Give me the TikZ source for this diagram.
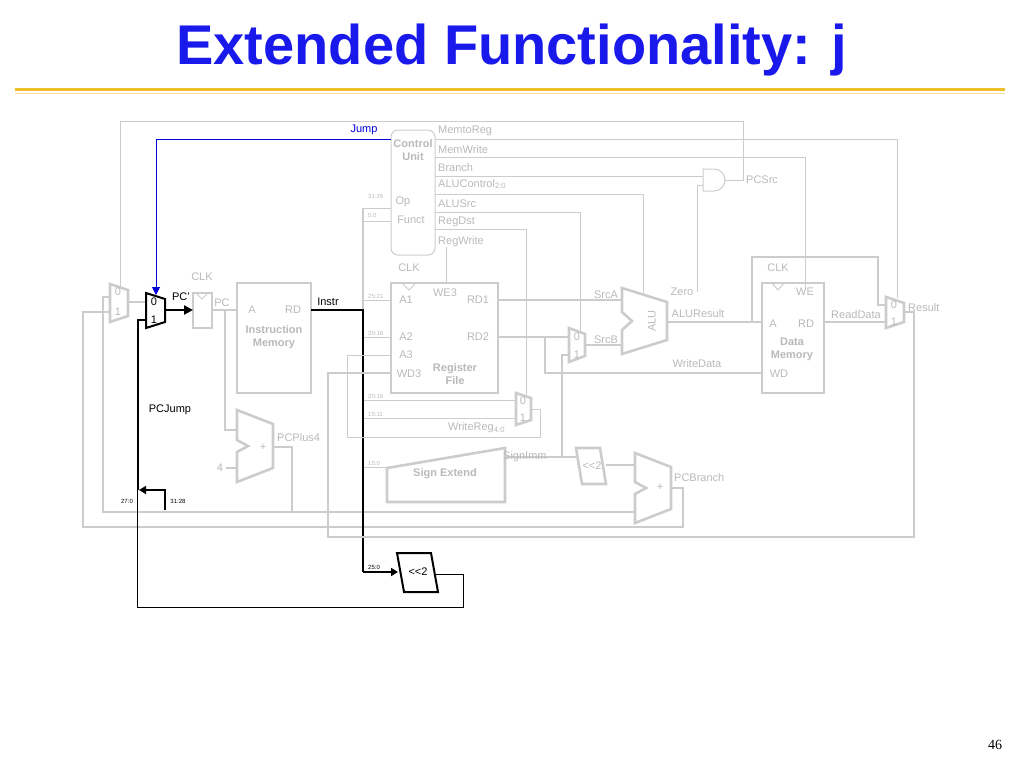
\documentclass[tikz,border=0pt]{standalone}
\usepackage{fontspec}
\setmainfont{Liberation Sans}
\usetikzlibrary{arrows.meta}
\definecolor{lg}{RGB}{204,204,204}
\definecolor{tg}{RGB}{185,185,185}
\definecolor{gold}{RGB}{240,190,40}
\definecolor{ttl}{RGB}{25,25,235}
\begin{document}
\begin{tikzpicture}[x=1pt,y=-1pt,
 w/.style={lg,line width=2.6pt},
 wt/.style={lg,line width=1pt},
 blk/.style={lg,line width=2.6pt},
 lb/.style={tg,font=\fontsize{11}{12}\selectfont,inner sep=0pt},
 bl/.style={tg,font=\fontsize{11}{13}\selectfont\bfseries,inner sep=0pt,align=center},
 sm/.style={tg,font=\fontsize{6}{7}\selectfont,inner sep=0pt},
 kb/.style={black,line width=2.6pt},
 kt/.style={black,line width=1pt}]
\useasboundingbox (0,0) rectangle (1024,768);
\node[ttl,font=\fontsize{56}{60}\selectfont\bfseries] (title) at (512,50) {Extended Functionality: j};
\draw[gold,line width=3pt] (15,89) -- (1005,89);
\draw[gold!50,line width=1pt] (15,93) -- (1005,93);
\node[font=\fontsize{14}{16}\selectfont\rmfamily] (pg) at (995,745) {\fontspec{Liberation Serif}46};

% control unit
\draw[wt,rounded corners=7pt] (391,130) rectangle (435,255);
\node[bl] (cu) at (413,150) {Control\\Unit};
\node[lb] at (403,202) {Op};
\node[lb] at (411,220) {Funct};
\foreach \t/\y in {MemtoReg/131,MemWrite/150,Branch/168,ALUSrc/204,RegDst/222,RegWrite/242}
  \node[lb,anchor=west] at (438,\y) {\t};
\node[lb,anchor=west] at (438,184) {ALUControl\textsubscript{2:0}};
\draw[wt] (435,139) -- (897,139) -- (897,298);
\draw[wt] (435,157) -- (805,157) -- (805,288);
\draw[wt] (435,176) -- (703,176);
\draw[wt] (435,194) -- (643,194) -- (643,296);
\draw[wt] (435,212) -- (580,212) -- (580,332);
\draw[wt] (435,229) -- (526,229) -- (526,396);
\draw[wt] (446,247) -- (446,283);
% AND
\draw[wt] (703,169) -- (714,169) arc(-90:90:11) -- (703,191) -- cycle;
\draw[wt] (725,180) -- (743,180) -- (743,121) -- (120,121) -- (120,288);
\node[lb,anchor=west] at (746,180) {PCSrc};
\draw[wt] (697,292) -- (697,185) -- (703,185);
\node[lb] at (682,292) {Zero};

% jump
\draw[blue!85!black,line width=1pt,-{Triangle[width=8pt,length=8pt]}] (391,139) -- (156,139) -- (156,295);
\node[blue!85!black,font=\fontsize{11}{12}\selectfont,inner sep=0pt] at (364,130) {Jump};

% register file
\draw[blk] (391,283) rectangle (498,393);
\draw[wt] (402,283) -- (409,290) -- (416,283);
\node[lb] at (409,268) {CLK};
\node[lb] at (445,293) {WE3};
\node[lb] at (406,300) {A1};
\node[lb] at (478,300) {RD1};
\node[lb] at (406,337) {A2};
\node[lb] at (478,337) {RD2};
\node[lb] at (406,355) {A3};
\node[lb] at (409,374) {WD3};
\node[bl] (rf) at (455,374) {Register\\File};
% instr memory
\draw[blk] (237,283) rectangle (311,393);
\node[lb] at (252,310) {A};
\node[lb] at (293,310) {RD};
\node[bl] (im) at (274,337) {Instruction\\Memory};
% PC reg
\draw[blk] (193,293) rectangle (212,328);
\draw[wt] (196,293) -- (202,299) -- (208,293);
\node[lb] at (202,277) {CLK};
\node[lb] at (222,303) {PC};
% far left mux
\draw[blk] (110,284) -- (128,290) -- (128,316) -- (110,322) -- cycle;
\node[lb] at (118,292) {0}; \node[lb] at (118,312) {1};
\draw[w] (128,302) -- (146,302);
\draw[w] (110,297) -- (103,297) -- (103,512) -- (635,512);
\draw[w] (110,312) -- (83,312) -- (83,527) -- (683,527) -- (683,488) -- (671,488);
% PC mux black
\draw[black,line width=2pt] (146,293) -- (165,299) -- (165,322) -- (146,328) -- cycle;
\node[font=\fontsize{11}{12}\selectfont,inner sep=0pt] at (154,302) {0};
\node[font=\fontsize{11}{12}\selectfont,inner sep=0pt] at (154,320) {1};
\draw[black,line width=2.6pt,-{Triangle[width=9pt,length=9pt]}] (165,310) -- (193,310);
\node[font=\fontsize{11}{12}\selectfont,inner sep=0pt] at (181,297) {PC'};
% PC to IM, adder
\draw[w] (212,310) -- (237,310);
\draw[w] (225,310) -- (225,430) -- (237,430);
% PCPlus4 adder
\draw[blk] (237,410) -- (273,424) -- (273,468) -- (237,482) -- (237,452) -- (248,446) -- (237,440) -- cycle;
\node[lb] at (263,447) {+};
\node[lb] at (220,468) {4};
\draw[w] (226,468) -- (237,468);
\draw[w] (273,447) -- (292,447) -- (292,512);
\node[lb,anchor=west] at (277,438) {PCPlus4};
% instr bus
\draw[w] (363,208) -- (363,467);
\draw[kb] (311,310) -- (363,310) -- (363,572);
\node[font=\fontsize{11}{12}\selectfont,inner sep=0pt] at (328,302) {Instr};
\draw[wt] (363,208) -- (391,208); \draw[wt] (363,221) -- (391,221);
\draw[wt] (364,300) -- (391,300); \draw[wt] (364,337) -- (391,337);
\draw[wt] (364,400) -- (516,400); \draw[wt] (364,418) -- (516,418);
\draw[wt] (364,467) -- (387,467);
\foreach \t/\y in {31:26/196,5:0/215,25:21/296,20:16/333,20:16/396,15:11/414,15:0/463}
  \node[sm,anchor=west] at (368,\y) {\t};
% regdst mux
\draw[blk] (516,393) -- (531,398) -- (531,420) -- (516,425) -- cycle;
\node[lb] at (523,401) {0}; \node[lb] at (523,418) {1};
\draw[wt] (531,409) -- (540,409) -- (540,437) -- (347,437) -- (347,355) -- (391,355);
\node[lb,anchor=west] at (448,428) {WriteReg\textsubscript{4:0}};
% sign extend
\draw[blk] (387,468) -- (505,448) -- (505,502) -- (387,502) -- cycle;
\node[bl] at (445,474) {Sign Extend};
\draw[w] (505,457) -- (576,457);
\node[lb,anchor=west] at (503,457) {SignImm};
\draw[blk] (576,448) -- (600,448) -- (606,484) -- (582,484) -- cycle;
\node[lb] at (592,466) {{<}{<}2};
\draw[w] (606,465) -- (635,465);
% PCBranch adder
\draw[blk] (635,453) -- (671,467) -- (671,509) -- (635,523) -- (635,494) -- (646,488) -- (635,482) -- cycle;
\node[lb] at (660,487) {+};
\node[lb,anchor=west] at (674,478) {PCBranch};
% ALU
\draw[blk] (622,288) -- (667,302) -- (667,340) -- (622,354) -- (622,330) -- (632,321) -- (622,312) -- cycle;
\node[lb,rotate=90] at (652,321) {ALU};
\draw[w] (498,300) -- (622,300);
\node[lb] at (606,295) {SrcA};
\draw[w] (498,337) -- (569,337);
\draw[w] (545,337) -- (545,373) -- (762,373);
\node[lb] at (697,364) {WriteData};
\draw[blk] (569,328) -- (585,334) -- (585,356) -- (569,362) -- cycle;
\node[lb] at (577,337) {0}; \node[lb] at (577,355) {1};
\draw[w] (569,355) -- (562,355) -- (562,457);
\draw[w] (585,345) -- (622,345);
\node[lb] at (606,340) {SrcB};
\draw[w] (667,322) -- (762,322);
\node[lb] at (698,314) {ALUResult};
\draw[w] (752,322) -- (752,257) -- (878,257) -- (878,305) -- (886,305);
% data memory
\draw[blk] (762,283) rectangle (824,393);
\draw[wt] (772,283) -- (778,290) -- (784,283);
\node[lb] at (778,268) {CLK};
\node[lb] at (805,292) {WE};
\node[lb] at (773,324) {A};
\node[lb] at (806,324) {RD};
\node[bl] (dm) at (792,349) {Data\\Memory};
\node[lb] at (779,374) {WD};
\draw[w] (824,322) -- (886,322);
\node[lb] at (856,315) {ReadData};
% result mux
\draw[blk] (886,297) -- (904,303) -- (904,322) -- (886,328) -- cycle;
\node[lb] at (894,305) {0}; \node[lb] at (894,322) {1};
\node[lb,anchor=west] at (908,308) {Result};
\draw[w] (904,312) -- (914,312) -- (914,537) -- (328,537) -- (328,373) -- (391,373);
% jump path
\draw[kb] (146,320) -- (138,320) -- (138,490);
\draw[black,line width=2pt,-{Triangle[width=8pt,length=7pt]}] (165,510) -- (165,490) -- (139,490);
\node[font=\fontsize{6}{7}\selectfont,inner sep=0pt] at (127,501) {27:0};
\node[font=\fontsize{6}{7}\selectfont,inner sep=0pt] at (178,501) {31:28};
\node[font=\fontsize{11}{12}\selectfont,inner sep=0pt] at (170,410) {PCJump};
\draw[black,line width=2.6pt,-{Triangle[width=8pt,length=7pt]}] (363,572) -- (398,572);
\node[font=\fontsize{6}{7}\selectfont,inner sep=0pt] at (374,567) {25:0};
\draw[black,line width=2pt,fill=white] (397,553) -- (431,553) -- (438,592) -- (404,592) -- cycle;
\node[font=\fontsize{11}{12}\selectfont,inner sep=0pt] (sl) at (418,572) {{<}{<}2};
\draw[kt] (436,574) -- (463,574) -- (463,607) -- (137,607) -- (137,490);
\end{tikzpicture}
\end{document}
